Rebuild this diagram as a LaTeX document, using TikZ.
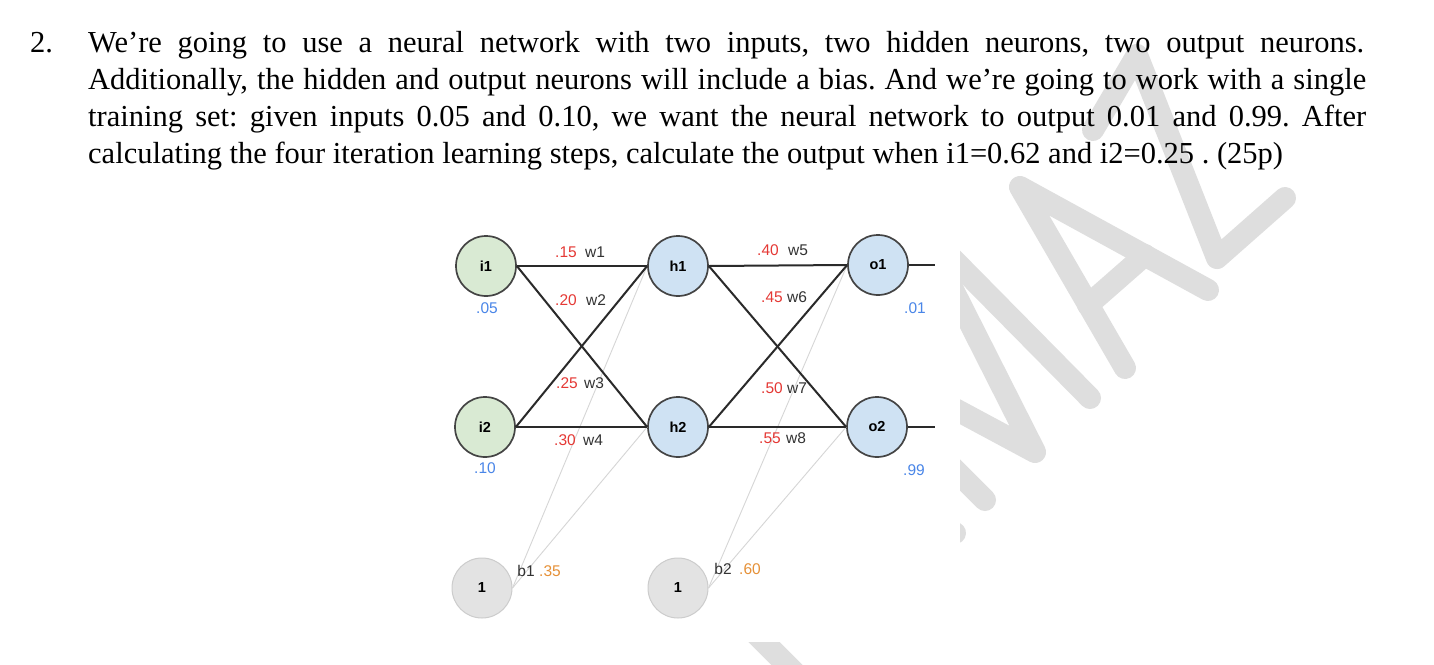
\documentclass[tikz,border=0pt]{standalone}
\usepackage{fontspec}
\setmainfont{Liberation Serif}
\newfontfamily\arialf{Liberation Sans}
\frenchspacing
\definecolor{edgec}{HTML}{2A2A2A}
\definecolor{nodeborder}{HTML}{444444}
\definecolor{inpfill}{HTML}{D9EAD3}
\definecolor{hidfill}{HTML}{CFE2F3}
\definecolor{biasfill}{HTML}{E3E3E3}
\definecolor{biasdraw}{HTML}{CCCCCC}
\definecolor{biasline}{HTML}{D6D6D6}
\definecolor{wred}{HTML}{E53935}
\definecolor{wblue}{HTML}{4A86E8}
\definecolor{worange}{HTML}{E69138}
\definecolor{wtext}{HTML}{333333}
\definecolor{wmgray}{HTML}{DEDEDE}
\begin{document}
\begin{tikzpicture}[x=1pt,y=-1pt,
  neuron/.style={circle, minimum size=60pt, inner sep=0pt, draw=nodeborder, line width=1.7pt,
    font=\arialf\bfseries\fontsize{14.5}{16}\selectfont},
  inp/.style={neuron, fill=inpfill},
  hid/.style={neuron, fill=hidfill},
  biasn/.style={neuron, fill=biasfill, draw=biasdraw, line width=1pt},
  conn/.style={line width=2pt, draw=edgec},
  bconn/.style={line width=0.9pt, draw=biasline},
  wlab/.style={font=\arialf\fontsize{15.5}{17}\selectfont, inner sep=0pt, text=wtext},
  wval/.style={wlab, text=wred},
  ival/.style={wlab, text=wblue},
  bval/.style={wlab, text=worange},
  wm/.style={line width=22pt, line cap=round, line join=round, draw=wmgray},
  txt/.style={anchor=base west, inner sep=0pt, font=\fontsize{30.5}{37}\selectfont}
]
\useasboundingbox[fill=white] (0,0) rectangle (1434,664);

% watermark
\draw[wm] (1093,130) -- (1137,55) -- (1217,258) -- (1285,198);
\draw[wm] (1125,368) -- (1020,187) -- (1208,290);
\draw[wm] (1088,305) -- (1145,255);
\draw[wm] (940,246) -- (1090,398);
\draw[wm] (940,264) -- (1035,452) -- (940,401);
\draw[wm] (940,455) -- (985,500);
\draw[wm] (925,518) -- (955,533);
\draw[wm] (730,608) -- (820,698);
% diagram image area
\fill[white] (440,190) rectangle (960,642);

% question text
\node[txt] (num) at (30,52) {2.};
\node[txt] (l1) at (88,52) {\makebox[1276pt][s]{We’re going to use a neural network with two inputs, two hidden neurons, two output neurons.}};
\node[txt] (l2) at (88,89) {\makebox[1278pt][s]{Additionally, the hidden and output neurons will include a bias. And we’re going to work with a single}};
\node[txt] (l3) at (88,126) {\makebox[1278pt][s]{training set: given inputs 0.05 and 0.10, we want the neural network to output 0.01 and 0.99. After}};
\node[txt] (l4) at (88,163) {calculating the four iteration learning steps, calculate the output when i1=0.62 and i2=0.25 . (25p)};

% neurons
\node[inp] (i1) at (486,266) {i1};
\node[inp] (i2) at (485,427) {i2};
\node[hid] (h1) at (678,266) {h1};
\node[hid] (h2) at (678,427) {h2};
\node[hid] (o1) at (878,265) {o1};
\node[hid] (o2) at (877,427) {o2};
\node[biasn] (b1) at (482,588) {1};
\node[biasn] (b2) at (678,588) {1};
\coordinate (o1out) at (935,265);
\coordinate (o2out) at (935,427);

% bias connections
\draw[bconn] (b1.east) -- (h1.west);
\draw[bconn] (b1.east) -- (h2.west);
\draw[bconn] (b2.east) -- (o1.west);
\draw[bconn] (b2.east) -- (o2.west);

% weights
\draw[conn] (i1.east) -- (h1.west);
\draw[conn] (i1.east) -- (h2.west);
\draw[conn] (i2.east) -- (h1.west);
\draw[conn] (i2.east) -- (h2.west);
\draw[conn] (h1.east) -- (o1.west);
\draw[conn] (h1.east) -- (o2.west);
\draw[conn] (h2.east) -- (o1.west);
\draw[conn] (h2.east) -- (o2.west);
\draw[conn] (o1.east) -- (o1out);
\draw[conn] (o2.east) -- (o2out);

% labels
\node[wval] (v1) at (566,252) {.15}; \node[wlab] (n1) at (595,252) {w1};
\node[wval] (v2) at (566,300) {.20}; \node[wlab] (n2) at (596,300) {w2};
\node[wval] (v3) at (567,383) {.25}; \node[wlab] (n3) at (594,383) {w3};
\node[wval] (v4) at (565,440) {.30}; \node[wlab] (n4) at (593,440) {w4};
\node[wval] (v5) at (768,250) {.40}; \node[wlab] (n5) at (798,250) {w5};
\node[wval] (v6) at (772,297) {.45}; \node[wlab] (n6) at (797,297) {w6};
\node[wval] (v7) at (772,388) {.50}; \node[wlab] (n7) at (797,388) {w7};
\node[wval] (v8) at (770,438) {.55}; \node[wlab] (n8) at (796,438) {w8};
\node[ival] (in1) at (487,308) {.05};
\node[ival] (in2) at (485,468) {.10};
\node[ival] (out1) at (915,308) {.01};
\node[ival] (out2) at (914,470) {.99};
\node[wlab] (b1n) at (526,571) {b1}; \node[bval] (b1v) at (550,571) {.35};
\node[wlab] (b2n) at (723,569) {b2}; \node[bval] (b2v) at (750,569) {.60};
\end{tikzpicture}
\end{document}
